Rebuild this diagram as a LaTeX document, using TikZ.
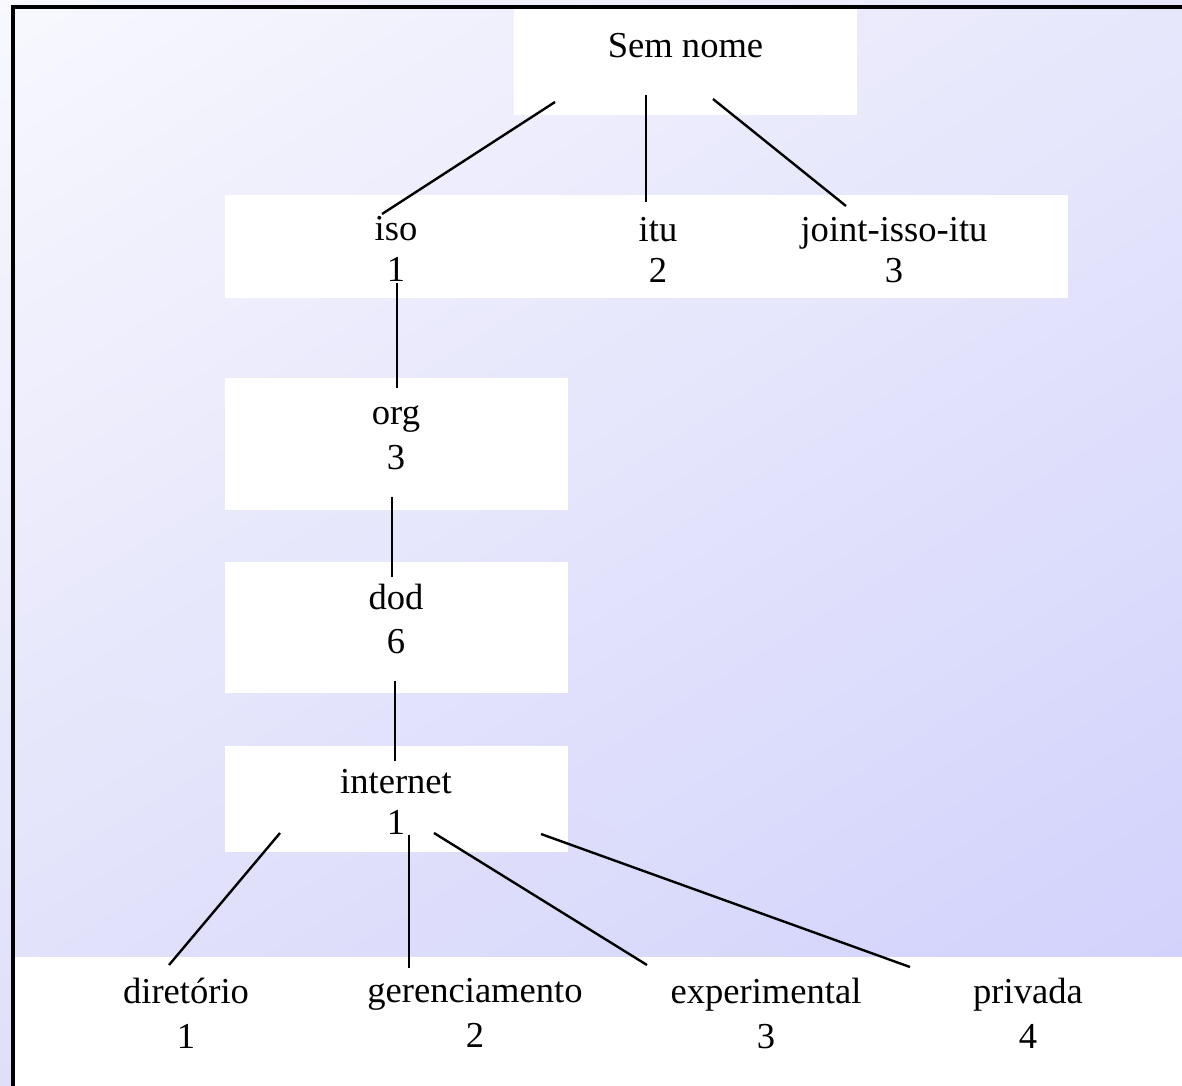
\documentclass[tikz,border=0pt]{standalone}
\usepackage{fontspec}
\setmainfont{Liberation Serif}
\usetikzlibrary{positioning}
\usetikzlibrary{shadings}
\definecolor{bg-tl}{RGB}{248,248,254}
\definecolor{bg-tr}{RGB}{231,231,252}
\definecolor{bg-bl}{RGB}{223,223,250}
\definecolor{bg-br}{RGB}{207,207,252}

\begin{document}
\begin{tikzpicture}[x=0.025cm, y=-0.025cm, line width=1.7pt,
oid/.style={font=\fontsize{26}{#1}\selectfont, align=center, inner sep=0pt,
  execute at begin node=\strut, execute at end node=\strut},
oid/.default=29.2pt,
panel/.style={fill=white}]
\useasboundingbox (0,0) rectangle (1182,1085);

% background and frame
\shade[upper left=bg-tl, upper right=bg-tr, lower left=bg-bl, lower right=bg-br]
  (-5,-5) rectangle (1190,1092);
\fill[panel] (15,957) rectangle (1190,1092);
\draw[line width=0.1cm] (13,1092) -- (13,7) -- (1190,7);

% white panels
\fill[panel] (514,9) rectangle (857,115);
\fill[panel] (225,195) rectangle (1068,298);
\fill[panel] (225,378) rectangle (568,510);
\fill[panel] (225,562) rectangle (568,693);
\fill[panel] (225,746) rectangle (568,852);

% labels
\node [oid] (root) at (685.5,49) {Sem nome};
\node [oid] (iso) at (396,255.3) {iso\\1};
\node [oid] (itu) at (658,256.3) {itu\\2};
\node [oid] (joint) at (894,256.3) {joint-isso-itu\\3};
\node [oid=32pt, on grid, below=4.72cm of iso] (org) {org\\3};
\node [oid=31.3pt, on grid, below=4.525cm of org] (dod) {dod\\6};
\node [oid, on grid, below=4.575cm of dod] (internet) {internet\\1};
\node [oid=32pt] (dir) at (186,1019.7) {diretório\\1};
\node [oid=32pt] (mgmt) at (475,1019.7) {gerenciamento\\2};
\node [oid=32pt] (exp) at (766,1019.7) {experimental\\3};
\node [oid=32pt] (priv) at (1028,1019.7) {privada\\4};

% stub ends
\coordinate (root-a) at (555,102);
\coordinate (root-b) at (646,95);
\coordinate (root-c) at (713,99);
\coordinate (iso-top) at (382,214);
\coordinate (itu-top) at (646,202);
\coordinate (joint-top) at (846,206);
\coordinate (iso-bot) at (397,283);
\coordinate (org-top) at (397,388);
\coordinate (org-bot) at (392,497);
\coordinate (dod-top) at (392,577);
\coordinate (dod-bot) at (395,681);
\coordinate (internet-top) at (395,761);
\coordinate (internet-a) at (280,833);
\coordinate (internet-b) at (409,835);
\coordinate (internet-c) at (434,833);
\coordinate (internet-d) at (541,834);
\coordinate (dir-top) at (169,965);
\coordinate (mgmt-top) at (409,968);
\coordinate (exp-top) at (647,965);
\coordinate (priv-top) at (910,967);

% tree
\draw (root-a) -- (iso-top);
\draw (root-b) -- (itu-top);
\draw (root-c) -- (joint-top);
\draw (iso-bot) -- (org-top);
\draw (org-bot) -- (dod-top);
\draw (dod-bot) -- (internet-top);
\draw (internet-a) -- (dir-top);
\draw (internet-b) -- (mgmt-top);
\draw (internet-c) -- (exp-top);
\draw (internet-d) -- (priv-top);
\end{tikzpicture}
\end{document}
